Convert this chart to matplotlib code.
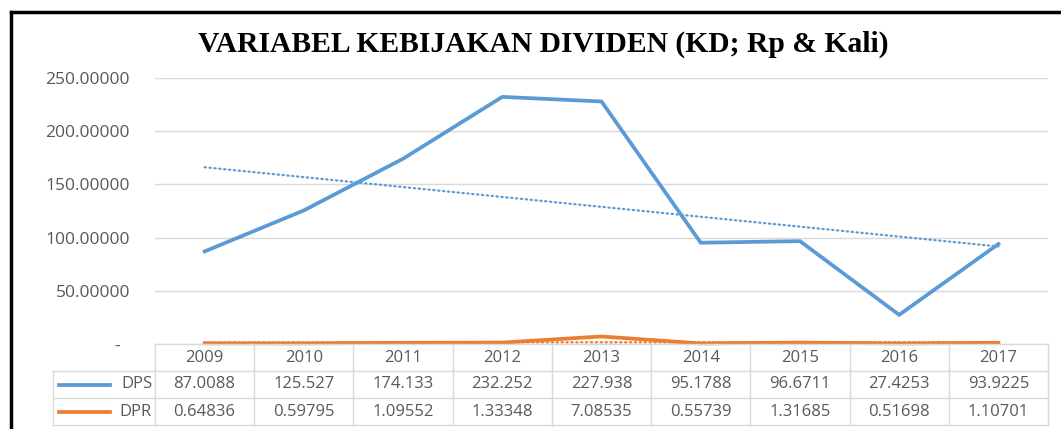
import numpy as np
import matplotlib
matplotlib.use("Agg")
import matplotlib.pyplot as plt
from matplotlib.lines import Line2D
from matplotlib.transforms import blended_transform_factory

years = ["2009", "2010", "2011", "2012", "2013", "2014", "2015", "2016", "2017"]
dps = [87.0088, 125.527, 174.133, 232.252, 227.938, 95.1788, 96.6711, 27.4253, 93.9225]
dpr = [0.64836, 0.59795, 1.09552, 1.33348, 7.08535, 0.55739, 1.31685, 0.51698, 1.10701]
dps_text = ["87.0088", "125.527", "174.133", "232.252", "227.938", "95.1788", "96.6711", "27.4253", "93.9225"]
dpr_text = ["0.64836", "0.59795", "1.09552", "1.33348", "7.08535", "0.55739", "1.31685", "0.51698", "1.10701"]
yticks = [0, 50, 100, 150, 200, 250]

blue = "#5b9bd5"
orange = "#ed7d31"
grey_text = "#595959"
grid_col = "#d9d9d9"

plt.rcParams["font.family"] = ["Open Sans", "DejaVu Sans"]

fig = plt.figure(figsize=(10.61, 4.29), dpi=100)
ax = fig.add_axes([155 / 1061, 1 - 344 / 429, (1048 - 155) / 1061, (344 - 78) / 429])

x = np.arange(len(years))
ax.plot(x, dps, color=blue, lw=2.7, solid_joinstyle="miter", clip_on=False, zorder=3)
ax.plot(x, dpr, color=orange, lw=2.7, solid_joinstyle="miter", clip_on=False, zorder=3)

# linear trendlines like Excel
for series, col in [(dps, blue), (dpr, orange)]:
    k, b = np.polyfit(x, series, 1)
    ax.plot(x, k * x + b, color=col, lw=1.6, linestyle=(0, (0.6, 1.6)),
            dash_capstyle="round", clip_on=False, zorder=2)

ax.set_xlim(-0.5, len(years) - 0.5)
ax.set_ylim(0, 250)
ax.set_yticks(yticks)
ax.set_yticklabels(["-  "] + ["%.5f" % v for v in yticks[1:]])
ax.tick_params(axis="y", length=0, pad=18, labelsize=12.5, labelcolor=grey_text)
ax.set_xticks([])
for s in ax.spines.values():
    s.set_visible(False)
ax.yaxis.grid(True, color=grid_col, lw=1)
ax.set_axisbelow(True)

# data table under the axes
tr = blended_transform_factory(ax.transData, fig.transFigure)
rows = [1 - 344 / 429, 1 - 371 / 429, 1 - 398 / 429, 1 - 425 / 429]
left_lab = -0.5 - (155 - 53) / ((1048 - 155) / 9)
right = len(years) - 0.5
line_kw = dict(transform=tr, color=grid_col, lw=1, clip_on=False)

fig.add_artist(Line2D([-0.5, right], [rows[0], rows[0]], **line_kw))
for r in rows[1:]:
    fig.add_artist(Line2D([left_lab, right], [r, r], **line_kw))
fig.add_artist(Line2D([left_lab, left_lab], [rows[1], rows[3]], **line_kw))
for i in range(len(years) + 1):
    fig.add_artist(Line2D([i - 0.5, i - 0.5], [rows[0], rows[3]], **line_kw))

for i, yr in enumerate(years):
    fig.text(i, (rows[0] + rows[1]) / 2, yr, transform=tr, ha="center", va="center",
             fontsize=12, color=grey_text)
    fig.text(i, (rows[1] + rows[2]) / 2, dps_text[i], transform=tr, ha="center", va="center",
             fontsize=12, color=grey_text)
    fig.text(i, (rows[2] + rows[3]) / 2, dpr_text[i], transform=tr, ha="center", va="center",
             fontsize=12, color=grey_text)

for name, col, r0, r1 in [("DPS", blue, rows[1], rows[2]), ("DPR", orange, rows[2], rows[3])]:
    ym = (r0 + r1) / 2
    fig.add_artist(Line2D([left_lab + 0.06, left_lab + 0.57], [ym, ym], transform=tr,
                          color=col, lw=2.7, clip_on=False))
    fig.text(-0.53, ym, name, transform=tr, ha="right", va="center", fontsize=12, color=grey_text)

fig.text(0.512, 1 - 44 / 429, "VARIABEL KEBIJAKAN DIVIDEN (KD; Rp & Kali)",
         ha="center", va="center", fontsize=21.3, fontweight="bold",
         family=["Liberation Serif", "DejaVu Serif"], color="black")

# black frame of the screenshot (left and top)
fig.add_artist(Line2D([11 / 1061, 11 / 1061], [0, 1 - 12 / 429], color="black", lw=2.5))
fig.add_artist(Line2D([11 / 1061, 1], [1 - 12 / 429, 1 - 12 / 429], color="black", lw=2.5))

fig.savefig("out.png", dpi=100)
